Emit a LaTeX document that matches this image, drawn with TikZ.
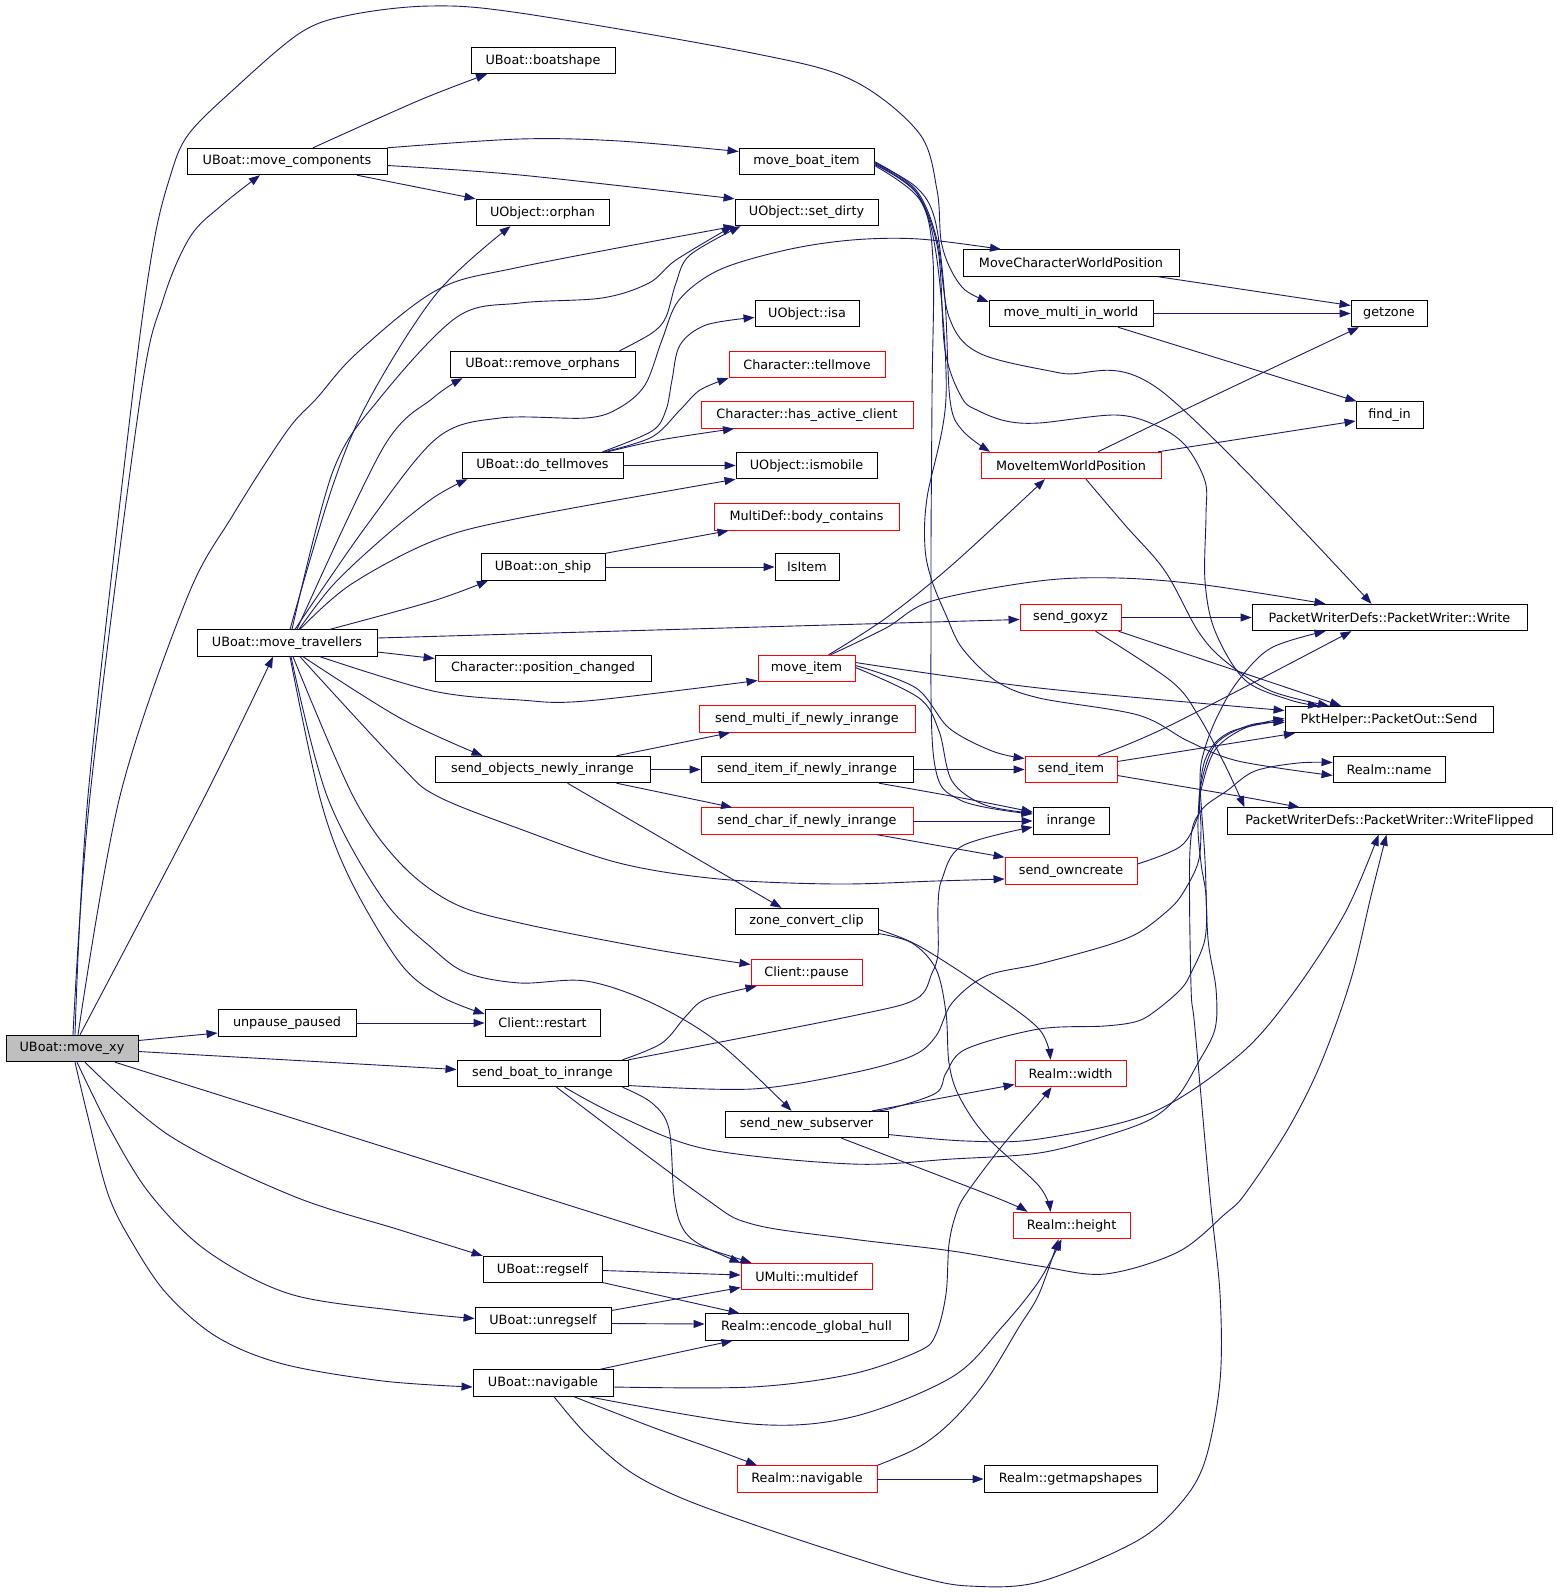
\documentclass[tikz,border=0pt]{standalone}
\usepackage{fontspec}
\newfontfamily\dejavu{DejaVu Sans}
\usetikzlibrary{arrows.meta}
\definecolor{edgeblue}{RGB}{25,25,112}
\definecolor{nodegray}{RGB}{191,191,191}
\begin{document}
\begin{tikzpicture}[x=1pt,y=-1pt,
  nd/.style={draw=black, line width=0.9pt, minimum height=26.5pt, inner sep=0pt, font=\dejavu\fontsize{12.8}{15}\selectfont},
  rnd/.style={nd, draw=red},
  e/.style={draw=edgeblue, line width=0.9pt, -{Triangle[length=11pt,width=8pt]}}
]
\useasboundingbox[fill=white] (0,0) rectangle (1557,1593);
% nodes
\node[nd, fill=nodegray, minimum width=132pt] (mxy) at (72,1048.5) {UBoat::move\_xy};
\node[nd, minimum width=144pt] (boat) at (543,60.5) {UBoat::boatshape};
\node[nd, minimum width=200pt] (mcomp) at (287,161.5) {UBoat::move\_components};
\node[nd, minimum width=135pt] (mbi) at (806.5,161.5) {move\_boat\_item};
\node[nd, minimum width=133pt] (orph) at (542.5,212.5) {UObject::orphan};
\node[nd, minimum width=143pt] (sdirty) at (806.5,212.5) {UObject::set\_dirty};
\node[nd, minimum width=216pt] (mcwp) at (1071,263) {MoveCharacterWorldPosition};
\node[nd, minimum width=164pt] (mmiw) at (1071,313.5) {move\_multi\_in\_world};
\node[nd, minimum width=76pt] (getzone) at (1389,313.5) {getzone};
\node[nd, minimum width=104pt] (isa) at (807,313.5) {UObject::isa};
\node[nd, minimum width=185pt] (rorph) at (542.5,364.5) {UBoat::remove\_orphans};
\node[rnd, minimum width=156pt] (tell) at (807,364.5) {Character::tellmove};
\node[nd, minimum width=67pt] (findin) at (1389.5,415) {find\_in};
\node[rnd, minimum width=212pt] (hac) at (807,415) {Character::has\_active\_client};
\node[nd, minimum width=161pt] (dotell) at (542.5,465.5) {UBoat::do\_tellmoves};
\node[nd, minimum width=141pt] (ismob) at (806.5,465.5) {UObject::ismobile};
\node[rnd, minimum width=180pt] (miwp) at (1071,465.5) {MoveItemWorldPosition};
\node[rnd, minimum width=185pt] (body) at (806.5,517) {MultiDef::body\_contains};
\node[nd, minimum width=124pt] (onship) at (543,567) {UBoat::on\_ship};
\node[nd, minimum width=64pt] (isitem) at (807,567) {IsItem};
\node[rnd, minimum width=101pt] (goxyz) at (1070.5,617.5) {send\_goxyz};
\node[nd, minimum width=275pt] (write) at (1389.5,617.5) {PacketWriterDefs::PacketWriter::Write};
\node[nd, minimum width=180pt] (mtrav) at (287,643) {UBoat::move\_travellers};
\node[nd, minimum width=216pt] (poschg) at (543,668.5) {Character::position\_changed};
\node[rnd, minimum width=97pt] (mitem) at (806.5,668.5) {move\_item};
\node[nd, minimum width=208pt] (send) at (1389,719.5) {PktHelper::PacketOut::Send};
\node[rnd, minimum width=216pt] (smulti) at (807,719) {send\_multi\_if\_newly\_inrange};
\node[nd, minimum width=215pt] (sobj) at (542.5,769.5) {send\_objects\_newly\_inrange};
\node[nd, minimum width=212pt] (sitemif) at (807,769.5) {send\_item\_if\_newly\_inrange};
\node[rnd, minimum width=92pt] (sitem) at (1071,769.5) {send\_item};
\node[nd, minimum width=112pt] (rname) at (1389,769.5) {Realm::name};
\node[rnd, minimum width=212pt] (scharif) at (807,821) {send\_char\_if\_newly\_inrange};
\node[nd, minimum width=76pt] (inrange) at (1071,821) {inrange};
\node[nd, minimum width=325pt] (wflip) at (1389.5,821) {PacketWriterDefs::PacketWriter::WriteFlipped};
\node[rnd, minimum width=132pt] (sownc) at (1071,871) {send\_owncreate};
\node[nd, minimum width=143pt] (zcc) at (806.5,921.5) {zone\_convert\_clip};
\node[rnd, minimum width=111pt] (pause) at (806.5,972.5) {Client::pause};
\node[nd, minimum width=138pt] (unp) at (287,1023) {unpause\_paused};
\node[nd, minimum width=115pt] (restart) at (542.5,1023) {Client::restart};
\node[nd, minimum width=171pt] (sbti) at (542.5,1073.5) {send\_boat\_to\_inrange};
\node[rnd, minimum width=111pt] (rwidth) at (1070.5,1073.5) {Realm::width};
\node[nd, minimum width=163pt] (snss) at (806.5,1124.5) {send\_new\_subserver};
\node[rnd, minimum width=117pt] (rheight) at (1071.5,1225.5) {Realm::height};
\node[nd, minimum width=119pt] (regself) at (542.5,1269.5) {UBoat::regself};
\node[rnd, minimum width=131pt] (multidef) at (806.5,1276.5) {UMulti::multidef};
\node[nd, minimum width=136pt] (unreg) at (543,1320.5) {UBoat::unregself};
\node[nd, minimum width=203pt] (egh) at (806.5,1327) {Realm::encode\_global\_hull};
\node[nd, minimum width=140pt] (bnav) at (543,1383) {UBoat::navigable};
\node[rnd, minimum width=140pt] (rnav) at (807,1479) {Realm::navigable};
\node[nd, minimum width=173pt] (gms) at (1070.5,1479) {Realm::getmapshapes};

% ---- edges from move_xy
\draw[e] plot[smooth,tension=.55] coordinates {([xshift=1pt]mxy.north) (90,796) (140,400) (163,300) (190,237) (222,205) ([xshift=-27pt]mcomp.south)};
\draw[e] plot[smooth,tension=.55] coordinates {([xshift=3pt]mxy.north) (88,796) (132,400) (153,247) (170,177) (188,135) (233,90) (300,33) (350,15) (430,6) (520,13) (752,53) (852,80) (919,133) (937,190) (941,240) (950,268) (965,290) ([yshift=-2pt]mmiw.north west)};
\draw[e] plot[smooth,tension=.55] coordinates {([xshift=6pt]mxy.north) (120,796) (187,598) (233,515) (287,431) (317,398) (357,353) (437,290) (520,267) (sdirty.south west)};
\draw[e] plot[smooth,tension=.55] coordinates {([xshift=8pt]mxy.north) (205,796) ([xshift=-14pt]mtrav.south)};
\draw[e] ([yshift=8pt]mxy.east) -- ([yshift=-10pt]unp.west);
\draw[e] ([yshift=-3pt]mxy.east) -- ([yshift=4pt]sbti.west);
\draw[e] ([xshift=43pt]mxy.south) -- ([xshift=-55pt]multidef.north);
\draw[e] plot[smooth,tension=.55] coordinates {([xshift=13pt]mxy.south) (170,1136) (293,1196) (400,1230) (regself.north west)};
\draw[e] plot[smooth,tension=.55] coordinates {([xshift=5pt]mxy.south) (110,1129) (150,1194) (207,1251) (290,1294) (400,1311) ([yshift=2pt]unreg.west)};
\draw[e] plot[smooth,tension=.55] coordinates {([xshift=3pt]mxy.south) (87,1113) (108,1194) (133,1244) (167,1294) (217,1337) (283,1364) (383,1381) ([yshift=-4pt]bnav.west)};
% ---- move_components
\draw[e] plot[smooth,tension=.55] coordinates {([xshift=26pt]mcomp.north) (420,100) ([xshift=-56pt]boat.south)};
\draw[e] plot[smooth,tension=.55] coordinates {(mcomp.north east) (520,139) (619,141) ([yshift=10pt]mbi.west)};
\draw[e] plot[smooth,tension=.55] coordinates {([yshift=-4pt]mcomp.east) (520,175) (sdirty.north west)};
\draw[e] ([xshift=70pt]mcomp.south) -- (orph.north west);
% ---- move_travellers
\draw[e] plot[smooth,tension=.55] coordinates {([xshift=3pt]mtrav.north) (333,485) (370,398) (437,293) ([xshift=-32pt]orph.south)};
\draw[e] plot[smooth,tension=.55] coordinates {([xshift=5pt]mtrav.north) (333,471) (380,398) (457,317) (520,303) (602,298) (649,283) (676,260) ([xshift=-74pt]sdirty.south)};
\draw[e] plot[smooth,tension=.55] coordinates {([xshift=10pt]mtrav.north) (383,448) (433,398) ([xshift=-80pt]rorph.south)};
\draw[e] plot[smooth,tension=.55] coordinates {([xshift=12pt]mtrav.north) (333,585) (383,538) (433,498) ([xshift=-75pt]dotell.south)};
\draw[e] plot[smooth,tension=.55] coordinates {([xshift=43pt]mtrav.north) (433,601) ([xshift=-55pt]onship.south)};
\draw[e] plot[smooth,tension=.55] coordinates {([xshift=13pt]mtrav.north) (350,585) (433,541) (520,518) (ismob.south west)};
\draw[e] plot[smooth,tension=.55] coordinates {([xshift=8pt]mtrav.north) (367,525) (437,438) (500,418) (586,418) (619,408) (645,385) (662,340) (679,300) (719,270) (786,250) (852,240) (919,239) ([xshift=-70pt]mcwp.north)};
\draw[e] ([yshift=5pt]mtrav.east) -- ([yshift=-2pt]goxyz.west);
\draw[e] ([yshift=-9pt]mtrav.east) -- ([yshift=10pt]poschg.west);
\draw[e] plot[smooth,tension=.55] coordinates {([xshift=33pt]mtrav.south) (433,691) (520,700) (586,701) ([yshift=-12pt]mitem.west)};
\draw[e] plot[smooth,tension=.55] coordinates {([xshift=16pt]mtrav.south) (400,718) ([xshift=-60pt]sobj.north)};
\draw[e] plot[smooth,tension=.55] coordinates {([xshift=3pt]mtrav.south) (320,798) (350,879) (400,963) (440,996) ([yshift=9pt]restart.west)};
\draw[e] plot[smooth,tension=.55] coordinates {([xshift=4pt]mtrav.south) (327,796) (383,899) (433,949) (467,973) (520,983) (586,981) (652,1003) (719,1043) ([xshift=-15pt]snss.north)};
\draw[e] plot[smooth,tension=.55] coordinates {([xshift=6pt]mtrav.south) (353,796) (400,863) (453,903) (520,923) (652,949) ([yshift=8pt]pause.west)};
\draw[e] plot[smooth,tension=.55] coordinates {([xshift=13pt]mtrav.south) (400,765) (437,796) (520,829) (619,863) (719,879) (836,884) (936,881) ([yshift=-8pt]sownc.west)};
% ---- do_tellmoves
\draw[e] plot[smooth,tension=.55] coordinates {([xshift=65pt]dotell.north) (660,440) ([xshift=-73pt]hac.south)};
\draw[e] (dotell.east) -- (ismob.west);
\draw[e] plot[smooth,tension=.55] coordinates {([xshift=60pt]dotell.north) (652,431) (666,410) (672,380) (680,345) (706,325) ([yshift=-4pt]isa.west)};
\draw[e] plot[smooth,tension=.55] coordinates {([xshift=62pt]dotell.north) (652,437) (680,410) (700,390) (tell.south west)};
% ---- on_ship, remove_orphans
\draw[e] (onship.north east) -- ([xshift=-78pt]body.south);
\draw[e] (onship.east) -- (isitem.west);
\draw[e] plot[smooth,tension=.55] coordinates {([xshift=77pt]rorph.north) (652,333) (666,317) (676,283) (690,255) ([xshift=-66pt]sdirty.south)};
% ---- send_objects_newly_inrange and co
\draw[e] ([xshift=74pt]sobj.north) -- ([xshift=-77pt]smulti.south);
\draw[e] (sobj.east) -- (sitemif.west);
\draw[e] ([xshift=74pt]sobj.south) -- ([xshift=-75pt]scharif.north);
\draw[e] ([xshift=25pt]sobj.south) -- ([xshift=-25pt]zcc.north);
\draw[e] (sitemif.east) -- (sitem.west);
\draw[e] plot[smooth,tension=.55] coordinates {([xshift=72pt]sitemif.south) (962,798) ([yshift=9pt]inrange.west)};
\draw[e] (scharif.east) -- (inrange.west);
\draw[e] ([xshift=70pt]scharif.south) -- (sownc.north west);
% ---- move_item
\draw[e] plot[smooth,tension=.55] coordinates {([xshift=22pt]mitem.north) (886,618) (952,565) ([xshift=-26pt]miwp.south)};
\draw[e] plot[smooth,tension=.55] coordinates {([xshift=24pt]mitem.north) (886,628) (932,601) (1039,581) (1118,578) (1205,585) ([xshift=-64pt]write.north)};
\draw[e] plot[smooth,tension=.55] coordinates {([yshift=6pt]mitem.east) (1039,688) ([yshift=9pt]send.west)};
\draw[e] plot[smooth,tension=.55] coordinates {([yshift=3pt]mitem.east) (916,688) (949,728) (992,751) ([yshift=11pt]sitem.west)};
\draw[e] plot[smooth,tension=.55] coordinates {([yshift=1pt]mitem.east) (919,698) (939,731) (952,781) (985,805) ([yshift=8pt]inrange.west)};
% ---- send_goxyz, send_item
\draw[e] (goxyz.east) -- (write.west);
\draw[e] ([xshift=48pt]goxyz.south) -- ([xshift=-48pt]send.north);
\draw[e] plot[smooth,tension=.55] coordinates {([xshift=25pt]goxyz.south) (1171,681) (1198,715) (1225,765) ([xshift=-145pt]wflip.north)};
\draw[e] plot[smooth,tension=.55] coordinates {([xshift=27pt]sitem.north) (1171,725) ([xshift=-38pt]write.south)};
\draw[e] ([yshift=8pt]sitem.east) -- ([xshift=-94pt]send.south);
\draw[e] plot[smooth,tension=.55] coordinates {([yshift=-6pt]sitem.east) (1238,796) ([xshift=-90pt]wflip.north)};
% ---- MoveItemWorldPosition, MoveCharacterWorldPosition, move_multi_in_world
\draw[e] plot[smooth,tension=.55] coordinates {([xshift=27pt]miwp.north) (1205,400) ([xshift=-30pt]getzone.south)};
\draw[e] ([xshift=87pt]miwp.north) -- ([yshift=-6pt]findin.west);
\draw[e] plot[smooth,tension=.55] coordinates {([xshift=15pt]miwp.south) (1125,525) (1165,571) (1198,631) (1225,661) (1271,691) ([xshift=-60pt]send.north)};
\draw[e] ([xshift=87pt]mcwp.south) -- ([yshift=8pt]getzone.west);
\draw[e] (mmiw.east) -- (getzone.west);
\draw[e] ([xshift=47pt]mmiw.south) -- ([xshift=-33pt]findin.north);
% ---- move_boat_item bundle
\draw[e] plot[smooth,tension=.55] coordinates {([yshift=-1pt]mbi.east) (916,187) (935,220) (945,300) (950,400) (962,430) ([xshift=-81pt]miwp.north)};
\draw[e] plot[smooth,tension=.55] coordinates {(mbi.east) (916,190) (937,240) (949,317) (979,353) (1060,373) (1160,390) ([xshift=-18pt]write.north)};
\draw[e] plot[smooth,tension=.55] coordinates {([yshift=-2pt]mbi.east) (916,192) (938,250) (945,350) (962,398) (979,411) (1006,421) (1039,423) (1115,415) (1155,425) (1185,445) (1205,481) (1206,515) (1205,581) (1215,631) (1245,680) (1290,700) ([xshift=-70pt]send.north)};
\draw[e] plot[smooth,tension=.55] coordinates {([yshift=-3pt]mbi.east) (918,195) (937,260) (946,398) (927,498) (925,548) (932,581) (946,615) (962,648) (996,681) (1039,698) (1138,715) (1188,741) (1238,761) ([yshift=-6pt]rname.west)};
\draw[e] plot[smooth,tension=.55] coordinates {([yshift=-4pt]mbi.east) (920,200) (933,260) (932,398) (931,598) (934,760) (960,800) ([yshift=7pt]inrange.west)};
% ---- send_boat_to_inrange
\draw[e] plot[smooth,tension=.55] coordinates {([xshift=80pt]sbti.north) (662,1043) (686,1016) (706,999) ([xshift=-50pt]pause.south)};
\draw[e] plot[smooth,tension=.55] coordinates {(sbti.north east) (852,1016) (916,999) (932,973) (938,953) (938,906) (942,879) (962,846) ([yshift=-6pt]inrange.west)};
\draw[e] plot[smooth,tension=.55] coordinates {([yshift=-12pt]sbti.east) (752,1089) (852,1073) (912,1056) (936,1036) (952,1003) (986,976) (1039,964) (1105,946) (1138,933) (1165,913) (1181,896) (1198,863) (1201,829) (1200,790) (1215,745) (1250,725) ([yshift=-3pt]send.west)};
\draw[e] plot[smooth,tension=.55] coordinates {([xshift=22pt]sbti.south) (619,1116) (706,1149) (852,1164) (952,1159) (1039,1153) (1105,1136) (1151,1119) (1178,1096) (1198,1063) (1215,1029) (1216,989) (1208,939) (1205,860) (1200,780) (1205,748) (1218,715) (1238,681) (1271,648) ([xshift=-64pt]write.south)};
\draw[e] plot[smooth,tension=.55] coordinates {([xshift=80pt]sbti.south) (652,1103) (669,1129) (674,1196) (682,1227) (699,1244) (multidef.north west)};
\draw[e] plot[smooth,tension=.55] coordinates {([xshift=14pt]sbti.south) (702,1196) (752,1224) (852,1239) (952,1251) (1039,1266) (1105,1274) (1178,1252) (1225,1214) (1245,1194) (1288,1129) (1321,1063) (1351,979) (1371,896) ([xshift=-3pt]wflip.south)};
% ---- send_new_subserver
\draw[e] plot[smooth,tension=.55] coordinates {([xshift=66pt]snss.north) (889,1109) (936,1093) (946,1073) (966,1049) (1039,1029) (1105,1026) (1138,1021) (1158,1009) (1181,989) (1191,973) (1205,939) (1206,896) (1201,863) (1198,820) (1205,760) (1230,732) ([yshift=-1pt]send.west)};
\draw[e] ([xshift=66pt]snss.north) -- ([yshift=-11pt]rwidth.west);
\draw[e] plot[smooth,tension=.55] coordinates {([yshift=-10pt]snss.east) (966,1141) (1039,1139) (1151,1113) (1238,1056) (1291,996) (1345,913) ([xshift=-11pt]wflip.south)};
\draw[e] plot[smooth,tension=.55] coordinates {([xshift=35pt]snss.south) (992,1196) ([xshift=-44pt]rheight.north)};
% ---- send_owncreate
\draw[e] plot[smooth,tension=.55] coordinates {([yshift=7pt]sownc.east) (1181,846) (1198,816) (1201,790) (1215,750) (1245,728) ([yshift=1pt]send.west)};
% ---- zone_convert_clip
\draw[e] plot[smooth,tension=.55] coordinates {([yshift=-8pt]zcc.east) (919,946) (986,989) (1039,1029) ([xshift=-20pt]rwidth.north)};
\draw[e] plot[smooth,tension=.55] coordinates {([yshift=-12pt]zcc.east) (912,943) (936,969) (946,1013) (949,1063) (959,1096) (986,1136) (1039,1186) ([xshift=-21pt]rheight.north)};
% ---- unpause_paused
\draw[e] (unp.east) -- (restart.west);
% ---- regself / unregself
\draw[e] ([yshift=-1pt]regself.east) -- ([yshift=1.5pt]multidef.west);
\draw[e] ([yshift=-13pt]regself.east) -- ([xshift=-67pt]egh.north);
\draw[e] ([yshift=10pt]unreg.east) -- ([yshift=-11pt]multidef.west);
\draw[e] ([yshift=-3pt]unreg.east) -- ([yshift=3pt]egh.west);
% ---- UBoat::navigable
\draw[e] ([xshift=57pt]bnav.north) -- ([xshift=-74pt]egh.south);
\draw[e] plot[smooth,tension=.55] coordinates {([yshift=-4pt]bnav.east) (752,1387) (852,1374) (919,1351) (936,1334) (946,1294) (949,1244) (956,1214) (966,1194) (1002,1146) (1039,1103) ([xshift=-19pt]rwidth.south)};
\draw[e] plot[smooth,tension=.55] coordinates {([xshift=46pt]bnav.south) (752,1424) (852,1417) (952,1377) (1002,1327) (1039,1281) ([xshift=-10pt]rheight.south)};
\draw[e] plot[smooth,tension=.55] coordinates {([xshift=31pt]bnav.south) (652,1427) (719,1451) ([xshift=-50pt]rnav.north)};
\draw[e] plot[smooth,tension=.55] coordinates {([xshift=11pt]bnav.south) (586,1434) (629,1471) (679,1497) (752,1524) (852,1557) (919,1577) (969,1586) (1039,1582) (1135,1542) (1180,1504) (1205,1461) (1220,1381) (1220,1294) (1210,1196) (1195,1029) (1191,986) (1190,850) (1200,812) (1228,790) (1255,771) (1298,763) ([yshift=7pt]rname.west)};
% ---- Realm::navigable
\draw[e] (rnav.east) -- (gms.west);
\draw[e] plot[smooth,tension=.55] coordinates {(rnav.north east) (919,1447) (952,1421) (986,1381) (1019,1327) (1039,1294) ([xshift=-13pt]rheight.south)};
\end{tikzpicture}
\end{document}
